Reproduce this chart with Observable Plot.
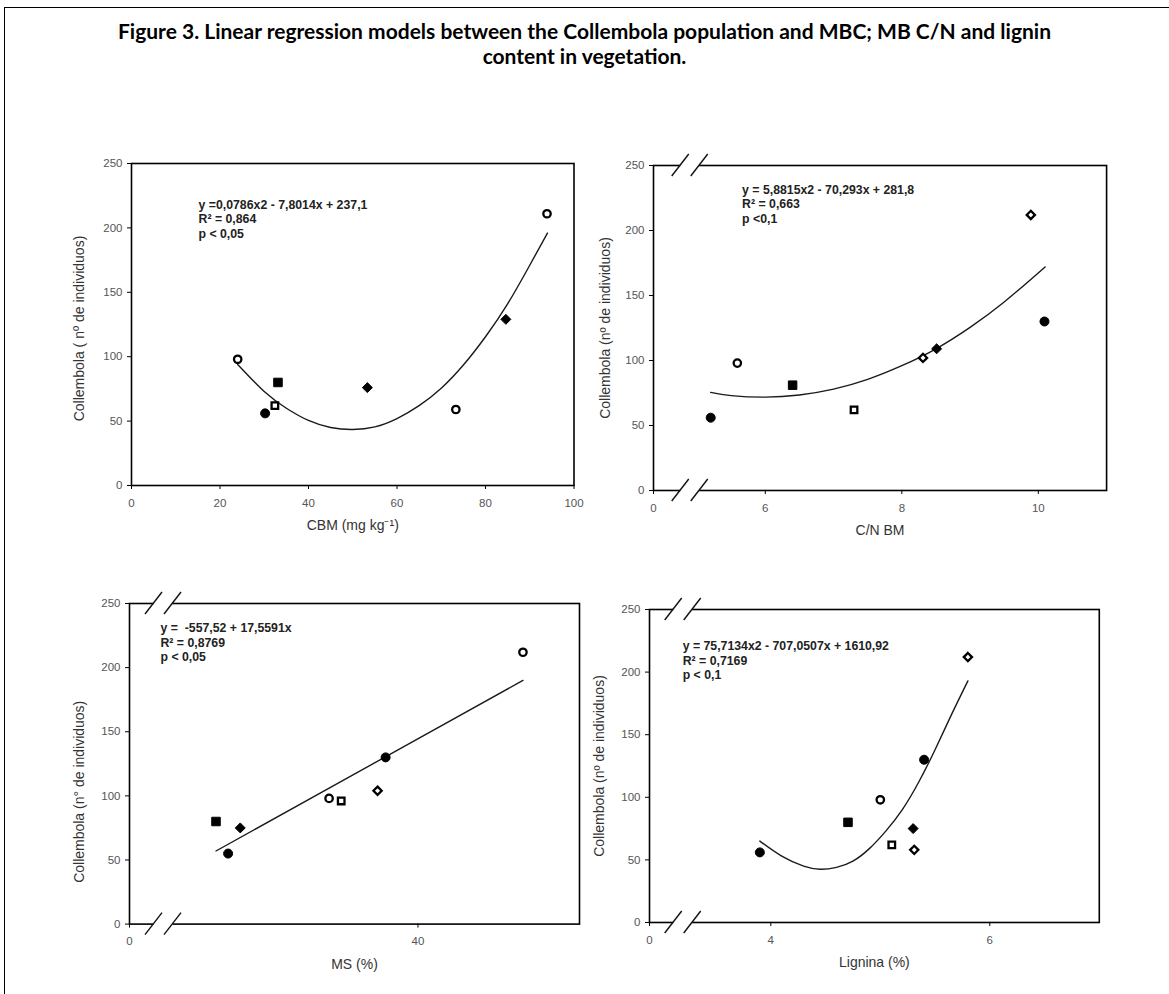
<!DOCTYPE html>
<html>
<head>
<meta charset="utf-8">
<script src="https://cdn.jsdelivr.net/npm/d3@7"></script>
<script src="https://cdn.jsdelivr.net/npm/@observablehq/plot@0.6"></script>
<style>
html, body { margin: 0; padding: 0; background: #fff; }
#page { position: relative; width: 1169px; height: 994px; overflow: hidden; background: #fff; }
#border { position: absolute; left: 4px; top: 7px; right: -5px; bottom: -5px; border-top: 1.5px solid #000; border-left: 1.5px solid #000; }
#title { position: absolute; left: 0; top: 18px; width: 1169px; text-align: center;
  font-family: Lato, "Open Sans", sans-serif; font-weight: bold; font-size: 21px; line-height: 25px; color: #000; }
.panel { position: absolute; }
.panel svg { overflow: visible; }
.panel g[aria-label$="tick label"] { fill: #555; }
</style>
</head>
<body>
<div id="page">
  <div id="border"></div>
  <div id="title">Figure 3. Linear regression models between the Collembola population and MBC; MB C/N and lignin<br>content in vegetation.</div>
</div>
<script>
// ---------- data ----------
const yTicks = [0, 50, 100, 150, 200, 250];

// Panel 1: CBM
const cbmX = [24, 30.2, 32.4, 33.1, 53.3, 73.3, 84.6, 93.9];
const cbmY = [98, 56, 62, 80, 76, 59, 129, 211];
const cbmSymbol = ["circle", "circle", "square", "square", "diamond2", "circle", "diamond2", "circle"];
const cbmFilled = [false, true, false, true, true, false, true, false];
const cbmCurveX = [24, 30, 35, 40, 45, 50, 55, 60, 65, 70, 75, 80, 85, 90, 94];
const cbmCurveY = [94, 73, 60, 50.5, 45, 43.5, 45.5, 52, 62, 75.5, 93.5, 115.5, 141, 171, 196];
const cbmTicks = [0, 20, 40, 60, 80, 100];
const cbmText = "y =0,0786x2 - 7,8014x + 237,1\nR² = 0,864\np < 0,05";

// Panel 2: C/N BM
const cnX = [5.2, 5.59, 6.4, 7.3, 8.31, 8.51, 9.89, 10.09];
const cnY = [56, 98, 81, 62, 102, 109, 212, 130];
const cnSymbol = ["circle", "circle", "square", "square", "diamond2", "diamond2", "diamond2", "circle"];
const cnFilled = [true, false, true, false, false, true, false, true];
const cnCurveX = [5.2, 5.5, 6, 6.5, 7, 7.5, 8, 8.5, 9, 9.5, 10.1];
const cnCurveY = [75.5, 73, 71.8, 73.5, 78, 85.5, 96, 109, 125.5, 145, 172];
const cnTicks = [0, 6, 8, 10];
const cnText = "y = 5,8815x2 - 70,293x + 281,8\nR² = 0,663\np <0,1";

// Panel 3: MS
const msX = [35.0, 35.3, 35.6, 37.8, 38.1, 39.0, 39.2, 42.6];
const msY = [80, 55, 75, 98, 96, 104, 130, 212];
const msSymbol = ["square", "circle", "diamond2", "circle", "square", "diamond2", "circle", "circle"];
const msFilled = [true, true, true, false, false, false, true, false];
const msLineX = [35.0, 42.6];
const msLineY = [57, 190];
const msTicks = [0, 40];
const msText = "y =  -557,52 + 17,5591x\nR² = 0,8769\np < 0,05";

// Panel 4: Lignina
const ligX = [3.9, 4.705, 5.0, 5.105, 5.3, 5.31, 5.4, 5.8];
const ligY = [56, 80, 98, 62, 75, 58, 130, 212];
const ligSymbol = ["circle", "square", "circle", "square", "diamond2", "diamond2", "circle", "diamond2"];
const ligFilled = [true, true, false, false, true, false, true, false];
const ligCurveX = [3.9, 4.1, 4.3, 4.45, 4.6, 4.75, 4.9, 5.05, 5.2, 5.35, 5.5, 5.65, 5.8];
const ligCurveY = [65, 53, 45, 42.5, 44, 49, 59, 73, 90, 112, 138, 166, 193];
const ligTicks = [0, 4, 6];
const ligText = "y = 75,7134x2 - 707,0507x + 1610,92\nR² = 0,7169\np < 0,1";

const yLabel1 = "Collembola ( nº de individuos)";
const yLabel = "Collembola (nº de individuos)";
const yLabel3 = "Collembola (n° de individuos)";

// axis-break positions (data units), null = no break
const axisBreaks = [null, 4.9, 33.7, 3.2];

// ---------- layout ----------
const ML = 90, MT = 24, MR = 24, MB = 60;
const panels = [
  {box: [130.6, 163, 573.1, 485], xDomain: [0, 100], joint: null,
   xs: cbmX, ys: cbmY, sym: cbmSymbol, fil: cbmFilled, cx: cbmCurveX, cy: cbmCurveY, ticks: cbmTicks,
   text: cbmText, tdx: 67, tdy: 35, xlab: "CBM (mg kg⁻¹)", ylab: yLabel1, ldx: -51.6, ldy: 4, brk: axisBreaks[0]},
  {box: [652.8, 165, 1105.9, 490], xDomain: [0, 4.4, 11], joint: 2.6,
   xs: cnX, ys: cnY, sym: cnSymbol, fil: cnFilled, cx: cnCurveX, cy: cnCurveY, ticks: cnTicks,
   text: cnText, tdx: 88.6, tdy: 18, xlab: "C/N BM", ylab: yLabel, ldx: -48, ldy: 0, brk: axisBreaks[1]},
  {box: [128.9, 602.7, 578.9, 923.3], xDomain: [0, 33.2, 44], joint: 13.8,
   xs: msX, ys: msY, sym: msSymbol, fil: msFilled, cx: msLineX, cy: msLineY, ticks: msTicks,
   text: msText, tdx: 31, tdy: 18.6, xlab: "MS (%)", ylab: yLabel3, ldx: -50, ldy: 28, brk: axisBreaks[2]},
  {box: [649.1, 609.3, 1098.9, 922.3], xDomain: [0, 3.0, 7], joint: 11.8,
   xs: ligX, ys: ligY, sym: ligSymbol, fil: ligFilled, cx: ligCurveX, cy: ligCurveY, ticks: ligTicks,
   text: ligText, tdx: 33.2, tdy: 30.4, xlab: "Lignina (%)", ylab: yLabel, ldx: -50, ldy: 0, brk: axisBreaks[3]}
];

function breakMark(value) {
  return (index, scales, values, dimensions) => {
    const g = d3.create("svg:g");
    if (value == null) return g.node();
    const x0 = scales.x(value);
    const top = dimensions.marginTop;
    const bottom = dimensions.height - dimensions.marginBottom;
    for (const yy of [top, bottom]) {
      g.append("rect").attr("x", x0 - 9.5).attr("y", yy - 2.5).attr("width", 19).attr("height", 5).attr("fill", "#fff");
      for (const off of [-9.5, 9.5]) {
        g.append("line")
          .attr("x1", x0 + off - 8.5).attr("y1", yy + 11)
          .attr("x2", x0 + off + 8.5).attr("y2", yy - 11)
          .attr("stroke", "#111").attr("stroke-width", 1.4);
      }
    }
    return g.node();
  };
}

const page = document.getElementById("page");

for (const p of panels) {
  const [l, t, r, b] = p.box;
  const iw = r - l, ih = b - t;
  const width = iw + ML + MR, height = ih + MT + MB;
  const pts = p.xs.map((x, i) => ({x, y: p.ys[i], symbol: p.sym[i], filled: p.fil[i]}));
  const curve = p.cx.map((x, i) => ({x, y: p.cy[i]}));
  const xRange = p.joint == null ? [ML, ML + iw] : [ML, ML + p.joint, ML + iw];

  const dotMarks = [];
  for (const s of ["circle", "square", "diamond2"]) {
    for (const f of [true, false]) {
      const sub = pts.filter(d => d.symbol === s && d.filled === f);
      if (!sub.length) continue;
      dotMarks.push(Plot.dot(sub, {
        x: "x", y: "y", symbol: s,
        r: f ? (s === "square" ? 4.8 : 4.5) : 3.7,
        fill: f ? "#000" : "#fff", stroke: "#000", strokeWidth: f ? 1 : 2.3
      }));
    }
  }

  const chart = Plot.plot({
    width, height,
    marginLeft: ML, marginTop: MT, marginRight: MR, marginBottom: MB,
    style: {fontFamily: "'Liberation Sans', Arial, sans-serif", background: "transparent", overflow: "visible"},
    x: {type: "linear", domain: p.xDomain, range: xRange},
    y: {domain: [0, 250]},
    marks: [
      Plot.frame({stroke: "#000", strokeWidth: 1.6}),
      Plot.axisX({ticks: p.ticks, tickSize: 4, tickPadding: 9, fontSize: 11.5, label: null, tickFormat: d => String(d)}),
      Plot.axisY({ticks: yTicks, tickSize: 4, tickPadding: 5, fontSize: 11.5, label: null}),
      breakMark(p.brk),
      Plot.line(curve, {x: "x", y: "y", curve: "natural", stroke: "#1a1a1a", strokeWidth: 1.4}),
      ...dotMarks,
      Plot.text([p.text], {text: d => d, frameAnchor: "top-left", dx: p.tdx, dy: p.tdy, textAnchor: "start",
        lineAnchor: "top", lineHeight: 1.18, fontSize: 12.3, fontWeight: "bold", fill: "#222"}),
      Plot.text([p.xlab], {text: d => d, frameAnchor: "bottom", textAnchor: "middle", lineAnchor: "middle",
        dy: 40, fontSize: 14, fill: "#333"}),
      Plot.text([p.ylab], {text: d => d, frameAnchor: "left", textAnchor: "middle", lineAnchor: "middle",
        rotate: -90, dx: p.ldx, dy: p.ldy, fontSize: 14, fill: "#333"})
    ]
  });
  const div = document.createElement("div");
  div.className = "panel";
  div.style.left = (l - ML) + "px";
  div.style.top = (t - MT) + "px";
  div.appendChild(chart);
  page.appendChild(div);
}
</script>
</body>
</html>
